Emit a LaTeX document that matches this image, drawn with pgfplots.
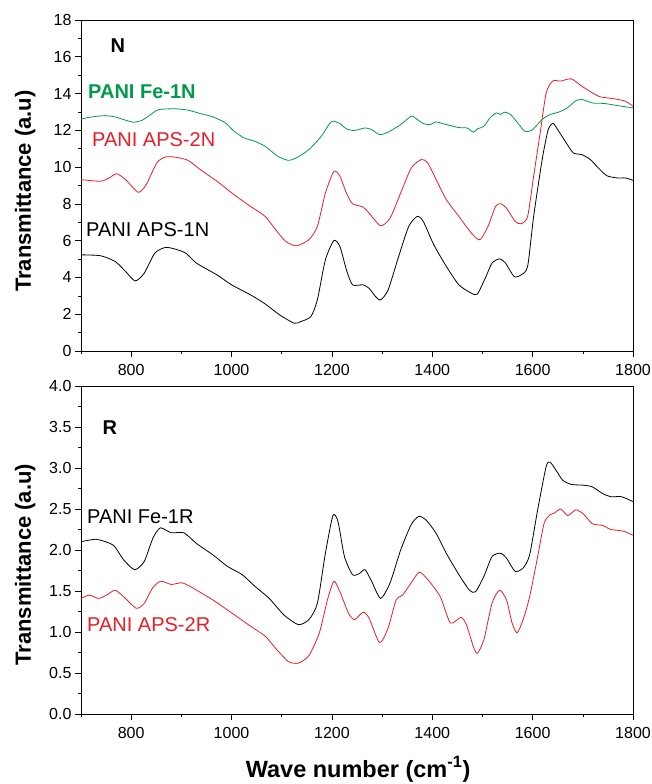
\documentclass[border=0pt]{standalone}
\usepackage{fontspec}
\setmainfont{Liberation Sans}
\usepackage{pgfplots}
\pgfplotsset{compat=1.18}
\definecolor{pgreen}{RGB}{0,155,72}
\definecolor{pred}{RGB}{237,28,36}
\pgfplotsset{
  ftir/.style={
    scale only axis, width=552pt,
    xmin=700, xmax=1800,
    xtick={800,1000,...,1800}, minor xtick={700,900,...,1700},
    xtick pos=left, ytick pos=left, tick align=outside,
    major tick length=6pt, minor tick length=3pt,
    every tick/.style={black, line width=0.6pt},
    axis line style={line width=0.8pt},
    tick label style={font=\fontsize{16}{16}\selectfont},
    xticklabel style={/pgf/number format/1000 sep={}, yshift=-4pt},
    /pgf/number format/assume math mode=true,
    ylabel={\bfseries Transmittance (a.u)},
    ylabel style={font=\fontsize{22}{22}\selectfont, anchor=center},
    every axis plot/.append style={line width=0.8pt, smooth, tension=0.4},
    clip=true,
  },
}
\begin{document}
\begin{tikzpicture}
\useasboundingbox (-81pt,20pt) rectangle (571pt,-764pt);
% ---- panel N ----
\begin{axis}[ftir, at={(0,0)}, anchor=north west, height=331pt,
  ymin=0, ymax=18, ytick={0,2,...,18}, minor ytick={1,3,...,17},
  ylabel style={at={(axis description cs:-0.101,0.483)}},
]
\addplot[black] coordinates {
(700,5.23) (739,5.18) (768,4.87) (789,4.32) (808,3.81) (826,4.23) (847,5.32)
(868,5.63) (888,5.54) (909,5.32) (930,4.78) (971,4.14) (1000,3.6) (1038,3.05)
(1067,2.56) (1096,1.96) (1125,1.51) (1138,1.6) (1158,1.87) (1171,2.78)
(1187,4.96) (1204,6.01) (1216,5.68) (1229,4.41) (1241,3.6) (1262,3.6)
(1274,3.41) (1287,2.96) (1297,2.78) (1312,3.32) (1333,5.14) (1353,6.77)
(1370,7.32) (1382,7.05) (1403,5.78) (1428,4.6) (1453,3.6) (1478,3.14)
(1490,3.1) (1507,4.05) (1519,4.78) (1534,5.01) (1546,4.78) (1563,4.05)
(1577,4.14) (1590,4.6) (1602,7.32) (1619,10.41) (1631,12.04) (1641,12.37)
(1652,11.95) (1665,11.4) (1681,10.77) (1698,10.68) (1715,10.41) (1731,9.95)
(1748,9.53) (1769,9.41) (1785,9.41) (1800,9.28)
};
\addplot[pred] coordinates {
(700,9.32) (739,9.23) (756,9.41) (771,9.64) (789,9.32) (814,8.63) (830,9.05)
(851,10.23) (868,10.55) (888,10.54) (913,10.37) (938,9.86) (971,9.23)
(1005,8.5) (1038,7.86) (1067,7.32) (1088,6.59) (1108,5.96) (1129,5.72)
(1154,6.05) (1171,6.77) (1187,8.59) (1204,9.77) (1216,9.5) (1229,8.59)
(1241,8.01) (1262,7.83) (1274,7.5) (1297,6.81) (1316,7.23) (1337,8.59)
(1358,9.95) (1378,10.41) (1391,10.23) (1411,9.14) (1428,8.23) (1453,7.32)
(1478,6.41) (1495,6.05) (1511,6.77) (1526,7.86) (1536,8.01) (1548,7.77)
(1565,7.05) (1577,6.92) (1590,7.32) (1602,9.5) (1615,11.86) (1627,14.04)
(1640,14.68) (1656,14.68) (1677,14.8) (1698,14.4) (1719,14.04) (1735,13.82)
(1764,13.71) (1785,13.58) (1800,13.31)
};
\addplot[pgreen] coordinates {
(700,12.62) (722,12.73) (747,12.8) (768,12.73) (789,12.55) (805,12.44)
(822,12.55) (839,12.86) (855,13.13) (888,13.17) (913,13.1) (938,12.91)
(963,12.73) (988,12.4) (1005,11.95) (1025,11.59) (1046,11.41) (1067,11.13)
(1092,10.59) (1113,10.37) (1129,10.5) (1154,10.95) (1179,11.68) (1196,12.4)
(1204,12.5) (1216,12.37) (1229,12.08) (1245,11.99) (1266,12.13) (1279,12.04)
(1295,11.77) (1312,11.9) (1337,12.31) (1358,12.77) (1370,12.59) (1382,12.37)
(1395,12.31) (1407,12.46) (1420,12.37) (1436,12.26) (1453,12.15) (1469,12.13)
(1482,11.9) (1490,12.08) (1503,12.22) (1515,12.68) (1528,12.95) (1536,12.86)
(1544,12.99) (1556,12.86) (1573,12.31) (1584,11.95) (1598,12.0) (1619,12.59)
(1635,12.86) (1652,12.99) (1669,13.22) (1685,13.59) (1698,13.68) (1719,13.49)
(1743,13.46) (1768,13.35) (1800,13.22)
};
\node[anchor=west, font=\fontsize{20}{20}\selectfont\bfseries] at (axis cs:752,16.6) {N};
\node[anchor=west, inner sep=0pt, text=pgreen, font=\fontsize{20}{20}\selectfont\bfseries] at (axis cs:714,14.08) {PANI Fe-1N};
\node[anchor=west, inner sep=0pt, text=pred, font=\fontsize{20}{20}\selectfont] at (axis cs:722,11.47) {PANI APS-2N};
\node[anchor=west, inner sep=0pt, font=\fontsize{20}{20}\selectfont] at (axis cs:710,6.58) {PANI APS-1N};
\end{axis}
% ---- panel R ----
\begin{axis}[ftir, at={(0,-366pt)}, anchor=north west, height=328pt,
  ymin=0, ymax=4, ytick={0,0.5,...,4}, minor ytick={0.25,0.75,...,3.75},
  yticklabel style={/pgf/number format/fixed, /pgf/number format/fixed zerofill,
    /pgf/number format/precision=1},
  ylabel style={at={(axis description cs:-0.101,0.455)}},
  xlabel={\bfseries Wave number (cm\textsuperscript{-1})},
  xlabel style={font=\fontsize{23.5}{23.5}\selectfont, at={(axis description cs:0.502,0)}, anchor=base, yshift=-63pt},
]
\addplot[black] coordinates {
(700,2.10) (731,2.13) (764,2.06) (785,1.88) (807,1.76) (826,1.86) (843,2.14)
(858,2.27) (880,2.21) (905,2.21) (930,2.08) (963,1.94) (992,1.80) (1021,1.70)
(1046,1.56) (1075,1.41) (1104,1.21) (1133,1.09) (1154,1.15) (1171,1.35)
(1187,1.96) (1202,2.42) (1212,2.35) (1225,1.92) (1241,1.70) (1254,1.71)
(1266,1.76) (1279,1.62) (1297,1.41) (1316,1.60) (1337,2.0) (1358,2.31)
(1373,2.41) (1387,2.37) (1407,2.21) (1428,1.96) (1453,1.70) (1474,1.51)
(1486,1.49) (1503,1.68) (1519,1.92) (1536,1.96) (1548,1.90) (1565,1.74)
(1581,1.78) (1594,1.94) (1610,2.49) (1627,3.02) (1635,3.07) (1648,2.96)
(1660,2.85) (1677,2.80) (1702,2.79) (1719,2.77) (1739,2.69) (1756,2.65)
(1777,2.65) (1800,2.59)
};
\addplot[pred] coordinates {
(700,1.41) (717,1.45) (735,1.41) (751,1.45) (768,1.51) (785,1.43) (810,1.29)
(826,1.35) (843,1.54) (859,1.62) (880,1.58) (901,1.60) (922,1.54) (963,1.39)
(1001,1.23) (1038,1.07) (1067,0.95) (1088,0.80) (1113,0.64) (1133,0.62)
(1154,0.71) (1175,0.99) (1191,1.39) (1204,1.62) (1216,1.49) (1233,1.23)
(1245,1.15) (1262,1.24) (1274,1.17) (1295,0.87) (1312,1.05) (1328,1.39)
(1341,1.45) (1358,1.60) (1374,1.73) (1391,1.64) (1416,1.43) (1436,1.11)
(1457,1.18) (1468,1.09) (1482,0.82) (1490,0.74) (1503,0.91) (1519,1.35)
(1534,1.51) (1548,1.39) (1559,1.11) (1569,0.99) (1581,1.15) (1594,1.43)
(1610,1.92) (1623,2.33) (1635,2.43) (1643,2.45) (1656,2.50) (1670,2.42)
(1686,2.49) (1701,2.44) (1719,2.32) (1739,2.30) (1756,2.25) (1781,2.23)
(1800,2.18)
};
\node[anchor=west, font=\fontsize{20}{20}\selectfont\bfseries] at (axis cs:736,3.49) {R};
\node[anchor=west, inner sep=0pt, font=\fontsize{20}{20}\selectfont] at (axis cs:712,2.41) {PANI Fe-1R};
\node[anchor=west, inner sep=0pt, text=pred, font=\fontsize{20}{20}\selectfont] at (axis cs:712,1.085) {PANI APS-2R};
\end{axis}
\end{tikzpicture}
\end{document}
